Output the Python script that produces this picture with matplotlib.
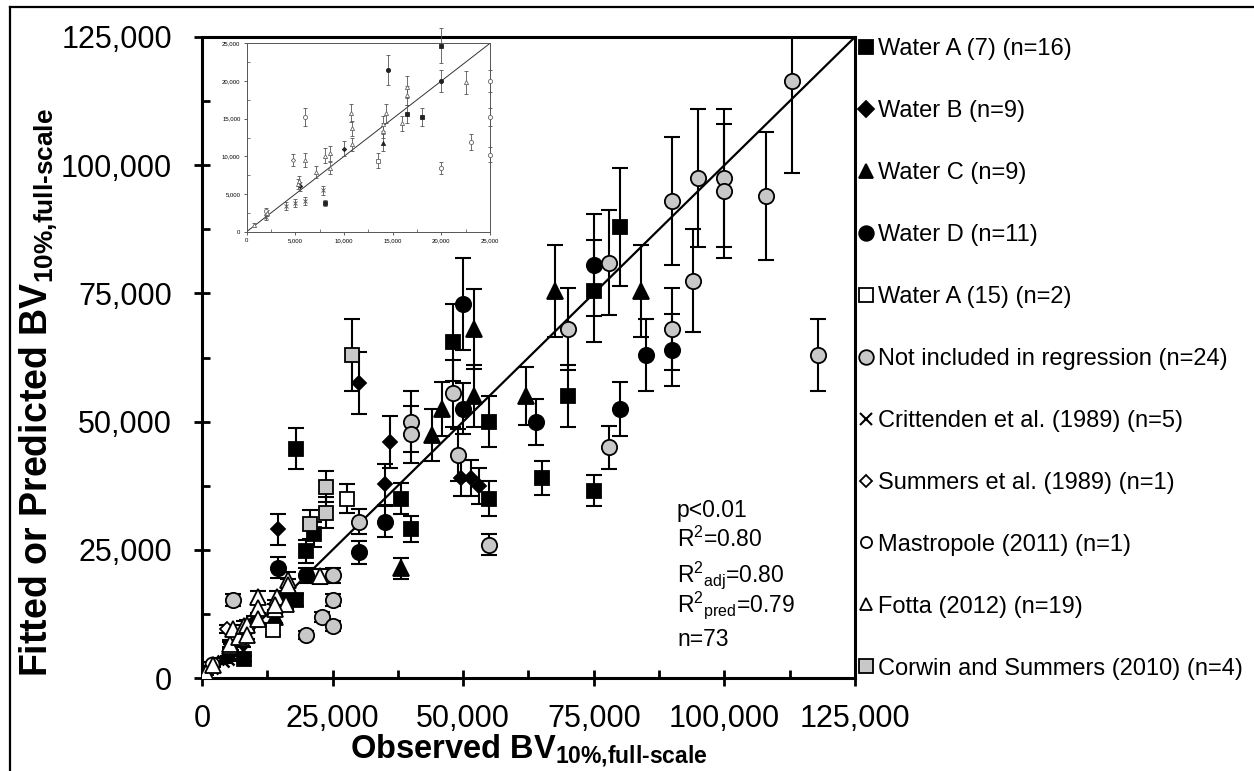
import matplotlib
matplotlib.use('Agg')
import matplotlib.pyplot as plt
from matplotlib.lines import Line2D
from matplotlib.ticker import FuncFormatter, MultipleLocator
import numpy as np

plt.rcParams['font.family'] = ['Liberation Sans', 'DejaVu Sans']
plt.rcParams['mathtext.default'] = 'regular'

# ---------------- data (observed, fitted/predicted, error) ----------------
wa7_x = [80000, 75000, 48000, 70000, 55000, 65000, 75000, 55000, 40000, 38000, 18000, 20000, 21500, 18000, 16500, 8000]
wa7_y = [88000, 75500, 65500, 55000, 50000, 39000, 36500, 35000, 29000, 35000, 44700, 24700, 28000, 15200, 15600, 3800]
wa7_e = [11500, 10000, 7500, 6000, 5000, 3400, 3000, 3500, 2500, 3000, 4000, 2300, 2500, 1200, 1200, 400]

wb_x = [30000, 36000, 35000, 14500, 49500, 51500, 53000, 10000, 5500]
wb_y = [57500, 46000, 37800, 29000, 39000, 39000, 37500, 11000, 6000]
wb_e = [6000, 5000, 4000, 3000, 3500, 3500, 3500, 1000, 600]

wc_x = [67500, 84000, 52000, 52000, 46000, 44000, 62000, 38000, 14000]
wc_y = [75500, 75500, 68000, 55000, 52500, 47400, 55000, 21400, 11800]
wc_e = [9000, 9000, 7800, 6000, 5300, 5000, 5700, 2000, 1100]

wd_x = [50000, 75000, 85000, 90000, 80000, 64000, 50000, 35000, 30000, 14500, 20000]
wd_y = [73000, 80500, 63000, 64000, 52500, 50000, 52500, 30500, 24500, 21500, 20000]
wd_e = [9000, 10000, 7000, 7000, 5300, 4500, 5000, 3000, 2200, 2000, 1500]

wa15_x = [27800, 13500]
wa15_y = [35000, 9400]
wa15_e = [2800, 1000]

ni_x = [113000, 95000, 100000, 100000, 90000, 108000, 78000, 94000, 70000, 90000, 48000, 40000,
        40000, 49000, 78000, 55000, 118000, 30000, 25000, 25000, 23000, 25000, 20000, 6000]
ni_y = [116500, 97500, 97500, 95000, 93000, 94000, 81000, 77500, 68000, 68000, 55500, 50000,
        47500, 43500, 45000, 26000, 63000, 30500, 20000, 15200, 11900, 10200, 8400, 15200]
ni_e = [18000, 13500, 13500, 13000, 12500, 12500, 10300, 10000, 8000, 8000, 6500, 6000,
        5500, 5000, 4200, 2000, 7000, 2500, 1500, 1200, 1000, 1000, 800, 1200]

cr_x = [2000, 4000, 5000, 6000, 7800]
cr_y = [1900, 3400, 3800, 4100, 5500]
cr_e = [300, 500, 500, 500, 600]

su_x = [4800]
su_y = [9500]
su_e = [800]

ma_x = [2000]
ma_y = [2800]
ma_e = [400]

fo_x = [700, 2100, 5300, 5400, 6000, 7100, 8000, 8600, 8600, 10700, 10800, 10800, 14000, 14300, 16000, 16500, 16500, 22500, 14000]
fo_y = [900, 2500, 6300, 6700, 9500, 7900, 10100, 10400, 8400, 15700, 13700, 11600, 13400, 15700, 14400, 19200, 18100, 19800, 14300]
fo_e = [300, 400, 700, 700, 900, 800, 1000, 1000, 800, 1200, 1000, 900, 1000, 1300, 1000, 1500, 1300, 1500, 1000]

cs_x = [28700, 23700, 23700, 20700]
cs_y = [63000, 37300, 32200, 30000]
cs_e = [7000, 3000, 3000, 2800]

labels = ["Water A (7) (n=16)", "Water B (n=9)", "Water C (n=9)", "Water D (n=11)",
          "Water A (15) (n=2)", "Not included in regression (n=24)",
          "Crittenden et al. (1989) (n=5)", "Summers et al. (1989) (n=1)",
          "Mastropole (2011) (n=1)", "Fotta (2012) (n=19)",
          "Corwin and Summers (2010) (n=4)"]

axis_max = 125000
inset_max = 25000
main_ticks = [0, 25000, 50000, 75000, 100000, 125000]
inset_ticks = [0, 5000, 10000, 15000, 20000, 25000]

stat_lines = ["p<0.01", "R$^2$=0.80", "R$^2{}_{adj}$=0.80", "R$^2{}_{pred}$=0.79", "n=73"]

# ---------------- styles ----------------
GRAY = '#c8c8c8'
styles = [
    (wa7_x, wa7_y, wa7_e, 's', 'k', 'k', 10.5, 10),
    (wb_x, wb_y, wb_e, 'D', 'k', 'k', 7.5, 8),
    (wc_x, wc_y, wc_e, '^', 'k', 'k', 11, 10),
    (wd_x, wd_y, wd_e, 'o', 'k', 'k', 11, 10.5),
    (wa15_x, wa15_y, wa15_e, 's', 'white', 'k', 10.5, 10),
    (ni_x, ni_y, ni_e, 'o', GRAY, 'k', 11, 10.5),
    (cr_x, cr_y, cr_e, 'x', 'k', 'k', 9, 9),
    (su_x, su_y, su_e, 'D', 'white', 'k', 7, 6.5),
    (ma_x, ma_y, ma_e, 'o', 'white', 'k', 10, 8),
    (fo_x, fo_y, fo_e, '^', 'white', 'k', 11, 8),
    (cs_x, cs_y, cs_e, 's', GRAY, 'k', 10.5, 10),
]

W, H = 1254, 771
fig = plt.figure(figsize=(W / 100, H / 100), dpi=100)

def fx(px):
    return px / W

def fy(py):
    return 1 - py / H

ax = fig.add_axes([fx(202), fy(678), fx(855) - fx(202), fy(37) - fy(678)])
ax.set_xlim(0, axis_max)
ax.set_ylim(0, axis_max)

ax.plot([0, axis_max], [0, axis_max], color='k', lw=1.6, zorder=2)

for x, y, e, m, fc, ec, ms, lms in styles:
    ax.errorbar(x, y, yerr=e, fmt='none', ecolor='k', elinewidth=1.5,
                capsize=5.6, capthick=1.5, zorder=3)
for x, y, e, m, fc, ec, ms, lms in styles:
    if m == 'x':
        ax.plot(x, y, ls='none', marker=m, ms=ms, mec='k', mew=1.8, zorder=4)
    else:
        ax.plot(x, y, ls='none', marker=m, ms=ms, mfc=fc, mec=ec, mew=1.3, zorder=4)

fmt = FuncFormatter(lambda v, p: f"{v:,.0f}")
ax.set_xticks(main_ticks)
ax.set_yticks(main_ticks)
ax.xaxis.set_major_formatter(fmt)
ax.yaxis.set_major_formatter(fmt)
ax.xaxis.set_minor_locator(MultipleLocator(12500))
ax.yaxis.set_minor_locator(MultipleLocator(12500))
ax.tick_params(which='major', direction='inout', length=11.5, width=2, labelsize=22)
ax.tick_params(axis='x', which='major', pad=13)
ax.tick_params(axis='y', which='major', pad=16)
ax.tick_params(which='minor', direction='in', length=6, width=2)
for s in ax.spines.values():
    s.set_linewidth(2.2)

ax.set_xlabel("Observed BV$_{10\\%{,}full\u2010scale}$", fontsize=23.5, fontweight='bold')
ax.set_ylabel("Fitted or Predicted BV$_{10\\%{,}full\u2010scale}$", fontsize=27, fontweight='bold')
ax.xaxis.set_label_coords(0.5, -0.084)
ax.yaxis.set_label_coords(-0.217, 0.446)

# stats annotation
for txt, base in zip(stat_lines, [517, 547, 582, 612, 646]):
    fig.text(fx(677), fy(base), txt, fontsize=16.5, va='baseline', ha='left')

# legend
handles = []
for (x, y, e, m, fc, ec, ms, lms), lab in zip(styles, labels):
    if m == 'x':
        h = Line2D([], [], ls='none', marker=m, ms=lms, mec='k', mew=1.5)
    else:
        h = Line2D([], [], ls='none', marker=m, ms=lms, mfc=fc, mec=ec, mew=1.3)
    handles.append(h)
fig.legend(handles, labels, loc='upper left', bbox_to_anchor=(fx(857), fy(38.5)),
           frameon=False, fontsize=17, handlelength=0.8, handletextpad=0.1,
           labelspacing=1.69, borderpad=0, borderaxespad=0)

# inset
ins = fig.add_axes([fx(246.7), fy(231.7), fx(490) - fx(246.7), fy(43.3) - fy(231.7)])
ins.set_xlim(0, inset_max)
ins.set_ylim(0, inset_max)
ins.plot([0, inset_max], [0, inset_max], color='#333333', lw=0.7, zorder=2)
for x, y, e, m, fc, ec, ms, lms in styles:
    xa, ya, ea = np.array(x), np.array(y), np.array(e)
    keep = (xa <= inset_max) & (ya <= inset_max)
    if not keep.any():
        continue
    ins.errorbar(xa[keep], ya[keep], yerr=ea[keep], fmt='none', ecolor='#555555',
                 elinewidth=0.6, capsize=1.6, capthick=0.6, zorder=3, clip_on=False)
    ifc = '#222222' if fc == 'k' else 'white'
    iec = '#222222' if ec == 'k' and fc == 'k' else '#666666'
    if m == 'x':
        ins.plot(xa[keep], ya[keep], ls='none', marker=m, ms=2.5, mec='#555555', mew=0.6,
                 zorder=4, clip_on=False)
    else:
        ins.plot(xa[keep], ya[keep], ls='none', marker=m, ms=3 if m != 'D' else 2.2,
                 mfc=ifc, mec=iec, mew=0.6, zorder=4, clip_on=False)
ins.set_xticks(inset_ticks)
ins.set_yticks(inset_ticks)
ins.xaxis.set_major_formatter(fmt)
ins.yaxis.set_major_formatter(fmt)
ins.xaxis.set_minor_locator(MultipleLocator(2500))
ins.yaxis.set_minor_locator(MultipleLocator(2500))
ins.tick_params(which='major', direction='out', length=2.5, width=0.6, labelsize=4.3,
                pad=2, color='#444444')
ins.tick_params(which='minor', direction='in', length=2, width=0.5, color='#444444')
for s in ins.spines.values():
    s.set_linewidth(0.7)
    s.set_color('#555555')

# outer frame lines (top and left)
fig.add_artist(Line2D([fx(10), 1], [fy(6.5), fy(6.5)], color='k', lw=1.6,
                      transform=fig.transFigure))
fig.add_artist(Line2D([fx(10), fx(10)], [fy(6.5), 0], color='k', lw=1.6,
                      transform=fig.transFigure))

fig.savefig('out.png', dpi=100)
